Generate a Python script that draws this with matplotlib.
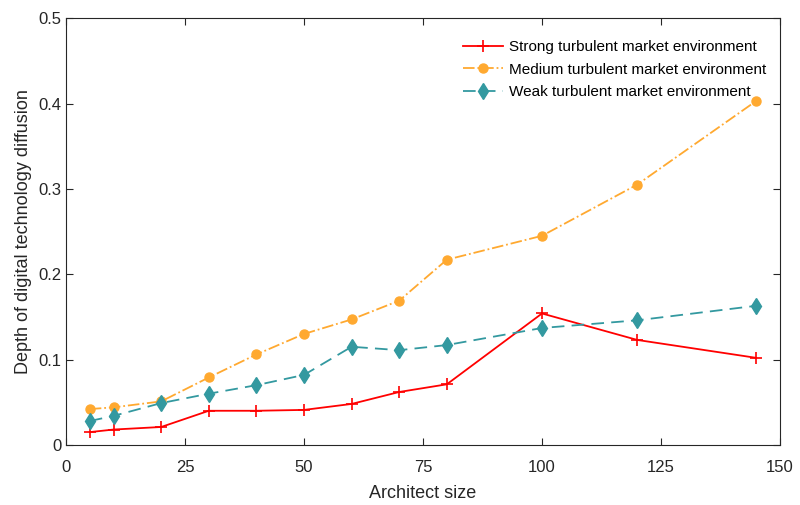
import matplotlib
matplotlib.use("Agg")
import matplotlib.pyplot as plt

plt.rcParams['font.family'] = ['Liberation Sans', 'DejaVu Sans']

sizes = [5, 10, 20, 30, 40, 50, 60, 70, 80, 100, 120, 145]
strong = [0.015, 0.018, 0.021, 0.040, 0.040, 0.041, 0.048, 0.062, 0.071, 0.154, 0.123, 0.102]
medium = [0.042, 0.044, 0.051, 0.079, 0.106, 0.130, 0.147, 0.169, 0.217, 0.245, 0.305, 0.403]
weak = [0.028, 0.034, 0.049, 0.060, 0.070, 0.082, 0.115, 0.111, 0.117, 0.137, 0.146, 0.163]

fig = plt.figure(figsize=(8, 5.05), dpi=100)
ax = fig.add_axes([0.0825, 0.119, 0.8925, 0.845])

ax.plot(sizes, strong, color='#ff0000', marker='+', markersize=8, mew=1.2, lw=1.3,
        label='Strong turbulent market environment')
ax.plot(sizes, medium, color='#ffa930', marker='o', markersize=6.5, lw=1.3, ls='-.',
        label='Medium turbulent market environment')
ax.plot(sizes, weak, color='#3399a0', marker='d', markersize=8, lw=1.3, ls=(0, (7, 4)),
        label='Weak turbulent market environment')

ax.set_xlim(0, 150)
ax.set_ylim(0, 0.5)
ax.set_xticks([0, 25, 50, 75, 100, 125, 150])
ax.set_yticks([0, 0.1, 0.2, 0.3, 0.4, 0.5])
ax.set_yticklabels(['0', '0.1', '0.2', '0.3', '0.4', '0.5'])
ax.tick_params(direction='in', top=True, right=True, labelsize=12, colors='#262626', length=5)
ax.tick_params(axis='x', pad=11)
for s in ax.spines.values():
    s.set_color('#262626')
    s.set_linewidth(0.8)
ax.set_xlabel('Architect size', fontsize=13, color='#262626', labelpad=7)
ax.set_ylabel('Depth of digital technology diffusion', fontsize=13, color='#262626')

ax.legend(loc='upper right', bbox_to_anchor=(1.011, 0.998), frameon=False, fontsize=11,
          handlelength=2.6, handletextpad=0.4, borderaxespad=1.0, labelspacing=0.55)

fig.savefig('out.png', dpi=100)
